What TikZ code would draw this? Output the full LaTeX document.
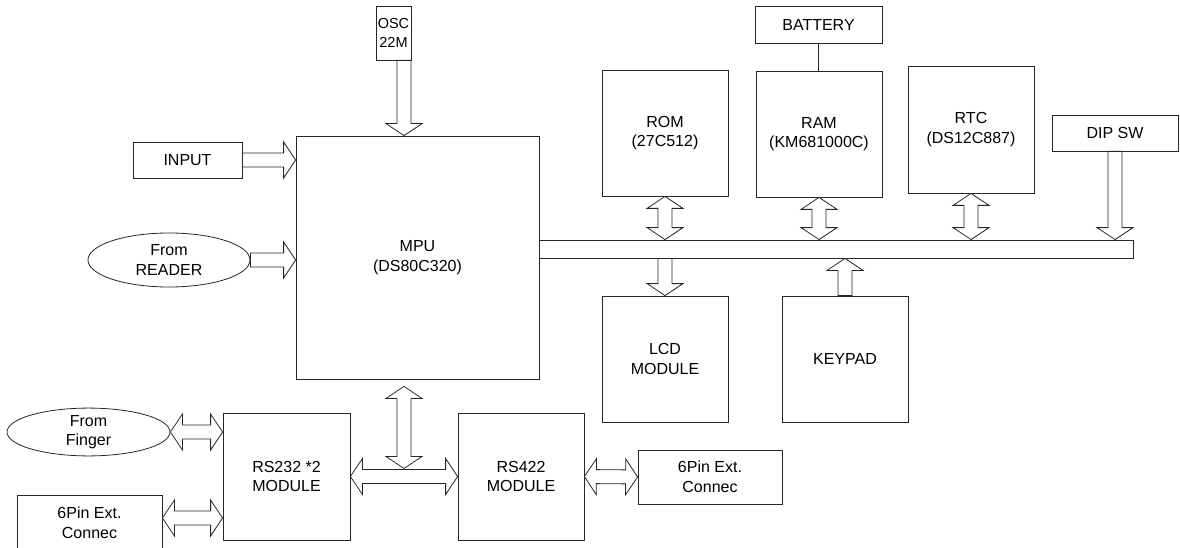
\documentclass[tikz,border=0pt]{standalone}
\usepackage{fontspec}
\setmainfont{Liberation Sans}
\usepackage{tikz}
\usetikzlibrary{calc,shapes.geometric}

\begin{document}
\begin{tikzpicture}[
        x=1pt, y=-1pt,
        every node/.style={font=\fontsize{16}{19.5}\selectfont},
        block/.style={draw=black!85, line width=0.8pt, rectangle, align=center, inner sep=0pt, minimum width=126pt, minimum height=126pt},
        oval/.style={draw=black!85, line width=0.8pt, ellipse, align=center, inner sep=0pt},
        fatarrow/.style={draw=black!85, line width=0.8pt, fill=white, to path={
            let \p1=(\tikztostart), \p2=(\tikztotarget), \p3=($(\p2)!12pt!(\p1)$) in
            ($(\p1)!7pt!90:(\p2)$) -- ($(\p3)!7pt!90:(\p2)$) -- ($(\p3)!18pt!90:(\p2)$) -- (\p2)
            -- ($(\p3)!18pt!-90:(\p2)$) -- ($(\p3)!7pt!-90:(\p2)$) -- ($(\p1)!7pt!-90:(\p2)$) -- cycle}},
        fatdouble/.style={draw=black!85, line width=0.8pt, fill=white, to path={
            let \p1=(\tikztostart), \p2=(\tikztotarget), \p3=($(\p1)!12pt!(\p2)$), \p4=($(\p2)!12pt!(\p1)$) in
            (\p1) -- ($(\p3)!18pt!90:(\p2)$) -- ($(\p3)!7pt!90:(\p2)$) -- ($(\p4)!7pt!90:(\p2)$) -- ($(\p4)!18pt!90:(\p2)$) -- (\p2)
            -- ($(\p4)!18pt!-90:(\p2)$) -- ($(\p4)!7pt!-90:(\p2)$) -- ($(\p3)!7pt!-90:(\p2)$) -- ($(\p3)!18pt!-90:(\p2)$) -- cycle}}
    ]
        \useasboundingbox (0,0) rectangle (1180,548);

        % Processor and its inputs
        \node[block, minimum width=243pt, minimum height=243pt] (mpu) at (417.5,257.5) {MPU\\(DS80C320)};
        \node[block, minimum width=35pt, minimum height=54pt, font=\fontsize{14.5}{18.5}\selectfont] (osc) at (393.5,33) {OSC\\22M};
        \node[block, minimum width=109pt, minimum height=36pt] (input) at (187.5,160) {INPUT};
        \node[oval, minimum width=162pt, minimum height=54pt] (reader) at (169,260) {From\\READER};

        % Bus and peripherals
        \node[block, minimum width=594pt, minimum height=18pt] (bus) at (836,249) {};
        \node[block] (rom) at (665,133) {ROM\\(27C512)};
        \node[block] (ram) at (819,134) {RAM\\(KM681000C)};
        \node[block, minimum width=127pt, minimum height=37pt] (battery) at (818.5,24.5) {BATTERY};
        \node[block, minimum height=127pt] (rtc) at (971,129.5) {RTC\\(DS12C887)};
        \node[block, minimum height=36pt] (dipsw) at (1115,133) {DIP SW};
        \node[block] (lcd) at (665,359) {LCD\\MODULE};
        \node[block] (keypad) at (845,359) {KEYPAD};

        % Serial side
        \node[block, minimum width=127pt, minimum height=127pt] (rs232) at (286.5,476.5) {RS232 *2\\MODULE};
        \node[block, minimum height=127pt] (rs422) at (521,476.5) {RS422\\MODULE};
        \node[block, minimum width=144pt, minimum height=54pt] (pinright) at (710,477) {6Pin Ext.\\Connec};
        \node[block, minimum width=145pt, minimum height=56pt] (pinleft) at (89.5,523) {6Pin Ext.\\Connec};
        \node[oval, minimum width=163pt, minimum height=44pt] (finger) at (88.5,432) {From\\Finger};

        \coordinate (link) at ($(rs232.east)!0.5!(rs422.west)$);
        \coordinate (pinltap) at ([yshift=5pt]pinleft.east);

        % Flows into the MPU
        \draw[fatarrow] (link |- osc.south) to (link |- mpu.north);
        \draw[fatarrow] (input.east) to (input.east -| mpu.west);
        \draw[fatarrow] (reader.east) to (reader.east -| mpu.west);

        % Bus flows
        \draw[fatdouble] (rom.south) to (rom.south |- bus.north);
        \draw[fatdouble] (ram.south) to (ram.south |- bus.north);
        \draw[fatdouble] (rtc.south) to (rtc.south |- bus.north);
        \draw[fatarrow] (dipsw.south) to (dipsw.south |- bus.north);
        \draw[fatarrow] (lcd.north |- bus.south) to (lcd.north);
        \draw[fatarrow] (keypad.north) to (keypad.north |- bus.south);
        \draw[draw=black!85, line width=0.8pt] (battery.south) -- (battery.south |- ram.north);

        % Serial flows
        \draw[fatdouble] (rs232.east) to (rs422.west);
        \draw[fatdouble] ($(link |- mpu.south)+(0,7)$) to ($(link)+(0,-8)$);
        \draw[fatdouble] (finger.east) to (finger.east -| rs232.west);
        \draw[fatdouble] (pinltap) to (pinltap -| rs232.west);
        \draw[fatdouble] (rs422.east) to (pinright.west);
    \end{tikzpicture}
\end{document}
